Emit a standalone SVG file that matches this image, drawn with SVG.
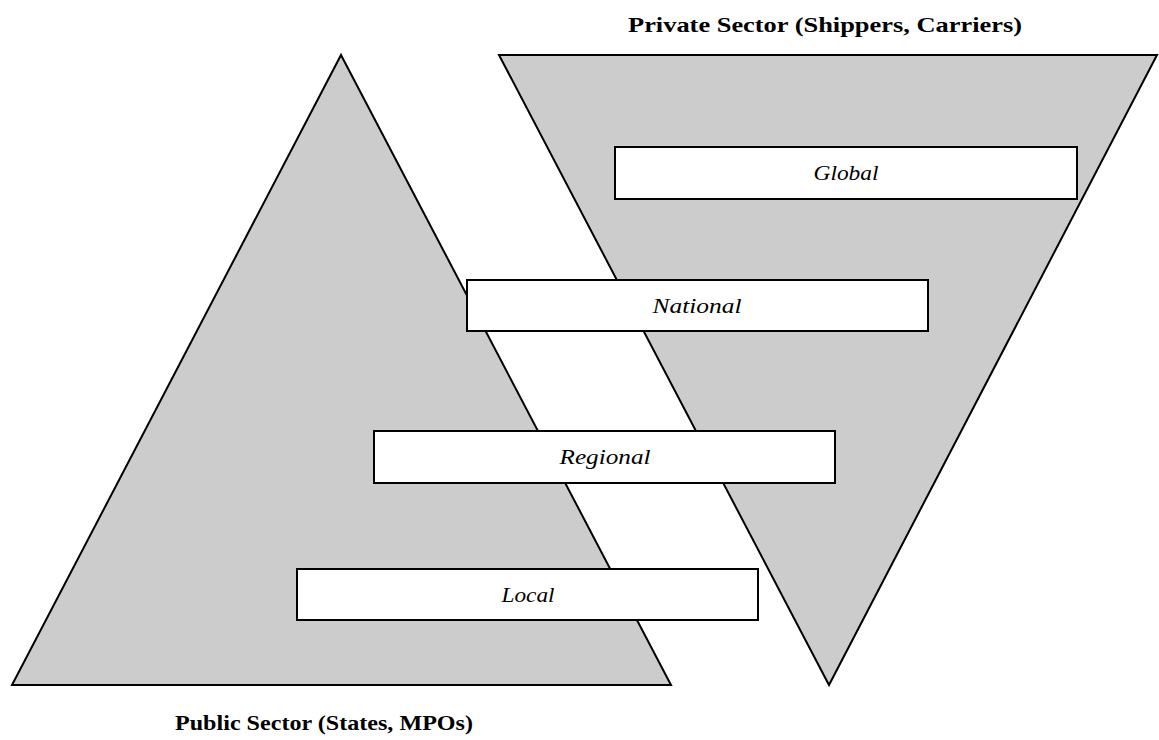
<svg xmlns="http://www.w3.org/2000/svg" width="1159" height="740" viewBox="0 0 1159 740">
<style>
.tri{fill:#cccccc;stroke:#000;stroke-width:2;stroke-linejoin:miter}
.box{fill:#fff;stroke:#000;stroke-width:2}
.lbl{font-family:"Liberation Serif","DejaVu Serif",serif;font-style:italic;font-size:21px;text-anchor:middle;fill:#000}
.ttl{font-family:"Liberation Serif","DejaVu Serif",serif;font-weight:bold;font-size:22px;text-anchor:middle;fill:#000}
</style>
<rect width="1159" height="740" fill="#fff"/>
<g id="public-triangle"><polygon class="tri" points="341,55 671,685 12,685"/></g>
<g id="private-triangle"><polygon class="tri" points="499,55 1157,55 829,685"/></g>
<g id="global"><rect class="box" x="615" y="147" width="462" height="52"/><text class="lbl" x="846" y="180" textLength="65" lengthAdjust="spacingAndGlyphs">Global</text></g>
<g id="national"><rect class="box" x="467" y="280" width="461" height="51"/><text class="lbl" x="697" y="313" textLength="89" lengthAdjust="spacingAndGlyphs">National</text></g>
<g id="regional"><rect class="box" x="374" y="431" width="461" height="52"/><text class="lbl" x="605" y="464" textLength="91" lengthAdjust="spacingAndGlyphs">Regional</text></g>
<g id="local"><rect class="box" x="297" y="569" width="461" height="51"/><text class="lbl" x="528" y="602" textLength="53" lengthAdjust="spacingAndGlyphs">Local</text></g>
<g id="titles">
<text class="ttl" x="825" y="32" textLength="394" lengthAdjust="spacingAndGlyphs">Private Sector (Shippers, Carriers)</text>
<text class="ttl" x="324" y="730" textLength="298" lengthAdjust="spacingAndGlyphs">Public Sector (States, MPOs)</text>
</g>
<g id="connectors"/>
</svg>
